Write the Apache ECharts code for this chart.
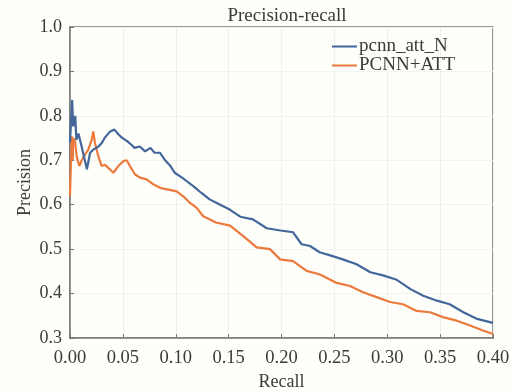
<!DOCTYPE html>
<html>
<head>
<meta charset="utf-8">
<script src="https://cdn.jsdelivr.net/npm/echarts@6/dist/echarts.min.js"></script>
<style>
  html, body { margin: 0; padding: 0; background: #fefefb; }
  #chart { width: 511px; height: 390px; }
</style>
</head>
<body>
<div id="chart"></div>
<script>
// pcnn_att_N curve (recall, precision)
const recallN = [0.000, 0.002, 0.003, 0.005, 0.006, 0.008, 0.011, 0.014, 0.016, 0.019, 0.022, 0.027, 0.030, 0.033, 0.038, 0.042, 0.046, 0.049, 0.054, 0.058, 0.061, 0.066, 0.071, 0.076, 0.080, 0.085, 0.090, 0.095, 0.099, 0.106, 0.112, 0.118, 0.124, 0.132, 0.142, 0.151, 0.161, 0.173, 0.186, 0.199, 0.211, 0.219, 0.227, 0.236, 0.246, 0.258, 0.271, 0.284, 0.296, 0.309, 0.322, 0.334, 0.347, 0.359, 0.372, 0.385, 0.400];
const precisionN = [0.74, 0.836, 0.776, 0.80, 0.746, 0.76, 0.731, 0.70, 0.68, 0.717, 0.724, 0.731, 0.739, 0.751, 0.765, 0.769, 0.758, 0.751, 0.743, 0.735, 0.728, 0.731, 0.72, 0.728, 0.717, 0.717, 0.70, 0.687, 0.672, 0.661, 0.65, 0.639, 0.627, 0.612, 0.60, 0.589, 0.573, 0.567, 0.547, 0.542, 0.538, 0.511, 0.507, 0.493, 0.486, 0.477, 0.466, 0.448, 0.441, 0.431, 0.41, 0.395, 0.384, 0.376, 0.358, 0.343, 0.334];

// PCNN+ATT curve
const recallA = [0.000, 0.0016, 0.0026, 0.003, 0.0047, 0.0063, 0.0088, 0.0111, 0.0142, 0.0173, 0.0205, 0.022, 0.0236, 0.0268, 0.030, 0.0331, 0.0362, 0.041, 0.0457, 0.0504, 0.0536, 0.0567, 0.0615, 0.0662, 0.0725, 0.0788, 0.0851, 0.093, 0.1009, 0.1071, 0.1135, 0.1198, 0.126, 0.138, 0.1513, 0.1636, 0.1765, 0.1891, 0.1986, 0.2109, 0.2238, 0.2364, 0.2522, 0.2648, 0.2771, 0.29, 0.3026, 0.3149, 0.3278, 0.3404, 0.3527, 0.3657, 0.3783, 0.3905, 0.40];
const precisionA = [0.62, 0.754, 0.70, 0.75, 0.743, 0.709, 0.687, 0.70, 0.713, 0.724, 0.746, 0.765, 0.739, 0.709, 0.687, 0.69, 0.683, 0.672, 0.687, 0.698, 0.70, 0.687, 0.668, 0.661, 0.657, 0.646, 0.638, 0.634, 0.63, 0.619, 0.604, 0.593, 0.574, 0.56, 0.553, 0.53, 0.504, 0.50, 0.477, 0.473, 0.451, 0.443, 0.424, 0.417, 0.403, 0.392, 0.381, 0.376, 0.361, 0.358, 0.347, 0.339, 0.328, 0.317, 0.309];

const xTicks = ["0.00", "0.05", "0.10", "0.15", "0.20", "0.25", "0.30", "0.35", "0.40"];

const font = "Liberation Serif";
const zip = (xs, ys) => xs.map((x, i) => [x, ys[i]]);

const chart = echarts.init(document.getElementById("chart"), null, { renderer: "canvas" });

chart.setOption({
	backgroundColor: "#fefefb",
	animation: false,
	title: {
		text: "Precision-recall",
		left: 282,
		textAlign: "center",
		top: 2,
		textStyle: { fontFamily: font, fontSize: 19, fontWeight: "normal", color: "#3a3a3a" },
	},
	legend: {
		orient: "vertical",
		left: 327,
		top: 32,
		itemGap: 0,
		itemWidth: 25,
		itemHeight: 2,
		icon: "rect",
		data: ["pcnn_att_N", "PCNN+ATT"],
		textStyle: { fontFamily: font, fontSize: 19, color: "#3a3a3a", padding: [0, 0, 0, -3] },
	},
	// plot box with a grey frame; keep it fixed, labels may sit outside it
	grid: {
		left: 70, right: 18, top: 27, bottom: 52,
		outerBoundsMode: "none",
		show: true, borderColor: "#777", borderWidth: 1.5, backgroundColor: "transparent",
	},
	xAxis: {
		type: "value",
		min: 0,
		max: 0.4,
		interval: 0.05,
		name: "Recall",
		nameLocation: "middle",
		nameGap: 31,
		nameTextStyle: { fontFamily: font, fontSize: 18, color: "#3a3a3a" },
		axisLine: { show: true, lineStyle: { color: "#777", width: 1.5 } },
		axisTick: { inside: true, length: 4, lineStyle: { color: "#777" } },
		axisLabel: {
			fontFamily: font, fontSize: 18.5, color: "#3a3a3a", margin: 11,
			formatter: (v) => xTicks[Math.round(v / 0.05)],
		},
		splitLine: { show: true, lineStyle: { color: "#f0f0ec", width: 1 } },
	},
	yAxis: {
		type: "value",
		min: 0.3,
		max: 1.0,
		interval: 0.1,
		name: "Precision",
		nameLocation: "middle",
		nameGap: 36,
		nameMoveOverlap: false,
		nameTextStyle: { fontFamily: font, fontSize: 18, color: "#3a3a3a" },
		axisLine: { show: true, lineStyle: { color: "#777", width: 1.5 } },
		axisTick: { inside: true, length: 4, lineStyle: { color: "#777" } },
		axisLabel: {
			fontFamily: font, fontSize: 18, color: "#3a3a3a", margin: 8,
			formatter: (v) => v.toFixed(1),
		},
		splitLine: { show: true, lineStyle: { color: "#f3f3ef", width: 1 } },
	},
	series: [
		{
			name: "pcnn_att_N",
			type: "line",
			data: zip(recallN, precisionN),
			showSymbol: false,
			lineStyle: { color: "#43679b", width: 2.2 },
			itemStyle: { color: "#43679b" },
			z: 3,
		},
		{
			name: "PCNN+ATT",
			type: "line",
			data: zip(recallA, precisionA),
			showSymbol: false,
			lineStyle: { color: "#ec7a3c", width: 2.2 },
			itemStyle: { color: "#ec7a3c" },
			z: 2,
		},
	],
});
</script>
</body>
</html>
